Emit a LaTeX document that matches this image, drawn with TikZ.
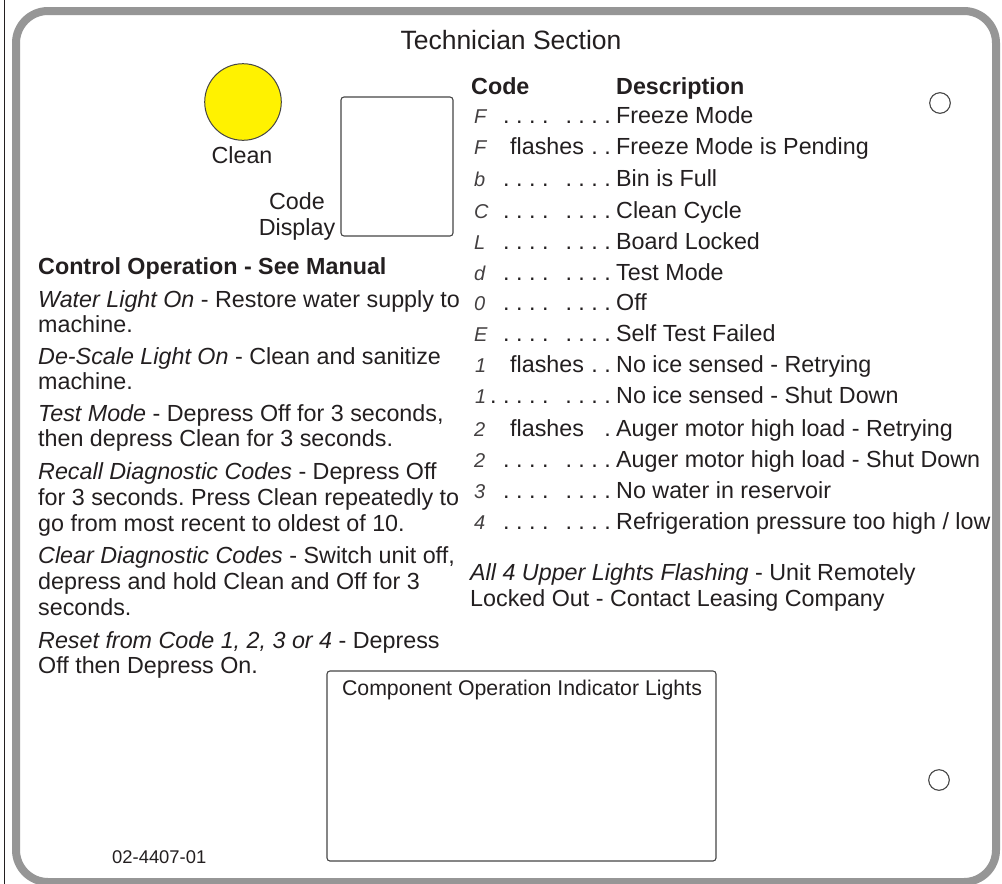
\documentclass[tikz,border=0pt]{standalone}
\usepackage{fontspec}
\setmainfont{Liberation Sans}
\definecolor{ink}{RGB}{35,31,32}
\definecolor{bordergray}{RGB}{150,150,150}
\definecolor{cleanyellow}{RGB}{255,242,0}
\definecolor{edgegray}{RGB}{70,70,70}
\newcommand\bodyfont{\fontsize{23.3}{26}\selectfont}
\newcommand\titlefont{\fontsize{26.5}{30}\selectfont}
\newcommand\segfont{\fontsize{20}{22}\selectfont\itshape}
\newcommand\smallnum{\fontsize{18.4}{22}\selectfont}
\newcommand\complblfont{\fontsize{21.3}{24}\selectfont}
\newcommand\dotsA{.\ .\ .\ .\hspace{17pt}.\ .\ .\ .}
\newcommand\dotsB{.\ .\ .\ .\ .\hspace{17pt}.\ .\ .\ .}
\tikzset{
  txt/.style={inner sep=0, anchor=base west, font=\bodyfont, text=ink},
  ctxt/.style={inner sep=0, anchor=base, font=\bodyfont, text=ink},
  leader/.style={inner sep=0, anchor=base east, font=\bodyfont, text=ink},
  seg/.style={inner sep=0, anchor=base west, font=\segfont, text=ink!85},
  panelbox/.style={draw=edgegray, line width=1.1pt, rounded corners=3pt, inner sep=0},
  hole/.style={circle, draw=edgegray, line width=1.1pt, minimum size=20.6pt, inner sep=0},
}
\begin{document}
\frenchspacing
\begin{tikzpicture}[x=1pt,y=-1pt]
\useasboundingbox (0,0) rectangle (1002,884);
\fill[white] (0,0) rectangle (1002,884);
% frame
\draw[ink, line width=1pt] (4,0) -- (4,884);
\draw[bordergray, line width=8pt, rounded corners=32pt] (16,11) rectangle (996,882);

% title
\node[inner sep=0, anchor=base, font=\titlefont, text=ink] (title) at (511,49) {Technician Section};

% clean light
\node[circle, draw=edgegray, line width=1pt, fill=cleanyellow, minimum size=76.6pt, inner sep=0] (clean) at (243,102) {};
\node[ctxt] (cleanlbl) at (242,163) {Clean};

% code display
\node[panelbox, minimum width=112pt, minimum height=139pt] (display) at (397,166.5) {};
\node[ctxt] (codelbl) at (297,209) {Code};
\node[ctxt] (displbl) at (297,235) {Display};

% holes
\node[hole] (hole1) at (940,103) {};
\node[hole] (hole2) at (939,780) {};

% left column
\node[txt] (l1) at (38,274) {\textbf{Control Operation - See Manual}};
\node[txt] (l2) at (38,307) {\textit{Water Light On} - Restore water supply to};
\node[txt] (l3) at (38,332) {machine.};
\node[txt] (l4) at (38,364) {\textit{De-Scale Light On} - Clean and sanitize};
\node[txt] (l5) at (38,389) {machine.};
\node[txt] (l6) at (38,421) {\textit{Test Mode} - Depress Off for 3 seconds,};
\node[txt] (l7) at (38,446) {then depress Clean for 3 seconds.};
\node[txt] (l8) at (38,479) {\textit{Recall Diagnostic Codes} - Depress Off};
\node[txt] (l9) at (38,505) {for 3 seconds. Press Clean repeatedly to};
\node[txt] (l10) at (38,531) {go from most recent to oldest of 10.};
\node[txt] (l11) at (38,563) {\textit{Clear Diagnostic Codes} - Switch unit off,};
\node[txt] (l12) at (38,589) {depress and hold Clean and Off for 3};
\node[txt] (l13) at (38,615) {seconds.};
\node[txt] (l14) at (38,648) {\textit{Reset from Code 1, 2, 3 or 4} - Depress};
\node[txt] (l15) at (38,673) {Off then Depress On.};

% right column header
\node[txt] (hcode) at (471,94) {\textbf{Code}};
\node[txt] (hdesc) at (616,94) {\textbf{Description}};

% rows
\node[seg] (g1) at (474,123) {F};
\node[leader] (d1) at (611,123) {\dotsA};
\node[txt] (t1) at (616,123) {Freeze Mode};

\node[seg] (g2) at (474,154) {F};
\node[txt] (f2) at (510,154) {flashes};
\node[leader] (d2) at (611,154) {.\ .};
\node[txt] (t2) at (616,154) {Freeze Mode is Pending};

\node[seg] (g3) at (474,186) {b};
\node[leader] (d3) at (611,186) {\dotsA};
\node[txt] (t3) at (616,186) {Bin is Full};

\node[seg] (g4) at (474,218) {C};
\node[leader] (d4) at (611,218) {\dotsA};
\node[txt] (t4) at (616,218) {Clean Cycle};

\node[seg] (g5) at (474,249) {L};
\node[leader] (d5) at (611,249) {\dotsA};
\node[txt] (t5) at (616,249) {Board Locked};

\node[seg] (g6) at (474,280) {d};
\node[leader] (d6) at (611,280) {\dotsA};
\node[txt] (t6) at (616,280) {Test Mode};

\node[seg] (g7) at (474,310) {0};
\node[leader] (d7) at (611,310) {\dotsA};
\node[txt] (t7) at (616,310) {Off};

\node[seg] (g8) at (474,341) {E};
\node[leader] (d8) at (611,341) {\dotsA};
\node[txt] (t8) at (616,341) {Self Test Failed};

\node[seg] (g9) at (475,372) {1};
\node[txt] (f9) at (510,372) {flashes};
\node[leader] (d9) at (611,372) {.\ .};
\node[txt] (t9) at (616,372) {No ice sensed - Retrying};

\node[seg] (g10) at (475,403) {1};
\node[leader] (d10) at (611,403) {\dotsB};
\node[txt] (t10) at (616,403) {No ice sensed - Shut Down};

\node[seg] (g11) at (474,436) {2};
\node[txt] (f11) at (510,436) {flashes};
\node[leader] (d11) at (611,436) {.};
\node[txt] (t11) at (616,436) {Auger motor high load - Retrying};

\node[seg] (g12) at (474,467) {2};
\node[leader] (d12) at (611,467) {\dotsA};
\node[txt] (t12) at (616,467) {Auger motor high load - Shut Down};

\node[seg] (g13) at (474,498) {3};
\node[leader] (d13) at (611,498) {\dotsA};
\node[txt] (t13) at (616,498) {No water in reservoir};

\node[seg] (g14) at (474,529) {4};
\node[leader] (d14) at (611,529) {\dotsA};
\node[txt] (t14) at (616,529) {Refrigeration pressure too high / low};

\node[txt] (r1) at (470,580) {\textit{All 4 Upper Lights Flashing} - Unit Remotely};
\node[txt] (r2) at (470,606) {Locked Out - Contact Leasing Company};

% component box
\node[panelbox, minimum width=389pt, minimum height=190pt] (comp) at (521.5,766) {};
\node[inner sep=0, anchor=base, font=\complblfont, text=ink] (complbl) at (522,695) {Component Operation Indicator Lights};

% part number
\node[inner sep=0, anchor=base west, font=\smallnum, text=ink] (partno) at (112,863) {02-4407-01};
\end{tikzpicture}
\end{document}
